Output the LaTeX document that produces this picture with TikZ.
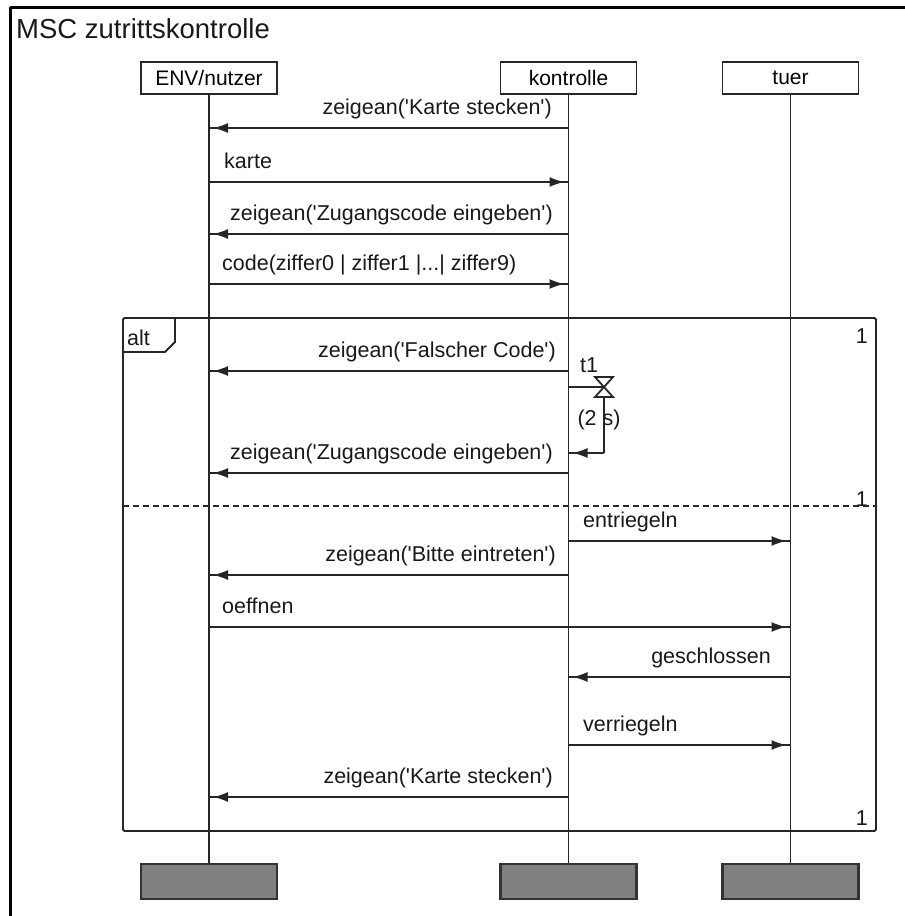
\documentclass[tikz,border=0pt]{standalone}
\usepackage{fontspec}
\setmainfont{Liberation Sans}
\usetikzlibrary{arrows.meta,calc}
\tikzset{
  frameline/.style={line width=3pt, draw=black},
  life/.style={line width=1.8pt, draw=black!85},
  headbox/.style={draw=black!85, line width=1.8pt, minimum width=136pt, minimum height=32pt, inner sep=0pt, font=\fontsize{21}{24}\selectfont},
  endbox/.style={draw=black!80, fill=black!50, line width=2.2pt, minimum width=136pt, minimum height=35pt, inner sep=0pt},
  msgline/.style={line width=1.8pt, draw=black!85},
  msgtip/.style={line width=1.8pt, draw=black!85, -{Latex[length=15pt,width=10pt]}, shorten >=4pt},
  lbl/.style={font=\fontsize{21.5}{25}\selectfont, inner sep=0pt, text=black!90},
  lblL/.style={lbl, anchor=base east},
  lblR/.style={lbl, anchor=base west},
  altframe/.style={line width=1.8pt, draw=black!85},
  sepline/.style={line width=1.6pt, draw=black!85, dash pattern=on 6pt off 4pt},
}
\newcommand\msgarrow[2]{\draw[msgline] (#1) -- (#2); \draw[msgtip] (#1) -- (#2);}
\newcommand\qt{\textquotesingle}
\begin{document}
\begin{tikzpicture}[x=1pt,y=-1pt]
\useasboundingbox (0,0) rectangle (905,916);
% outer frame (top and left visible)
\draw[frameline] (10,7) -- (905,7);
\draw[frameline] (10,7) -- (10,916);
\node[lbl, font=\fontsize{27.5}{32}\selectfont, anchor=base west] (title) at (16,38) {MSC zutrittskontrolle};

% instance heads and ends
\node[headbox] (henv) at (209,78) {ENV/nutzer};
\node[headbox] (hkon) at (568.5,78) {kontrolle};
\node[headbox] (htuer) at (790.5,78) {tuer};
\node[endbox] (eenv) at (209,881.5) {};
\node[endbox] (ekon) at (568.5,881.5) {};
\node[endbox] (etuer) at (790.5,881.5) {};

% alt frame
\draw[altframe, rounded corners=1.5pt] (123,318) rectangle (876,831);
\draw[altframe] (123,352) -- (165,352) -- (175,342) -- (175,318);
\node[lbl, anchor=base west] (alt) at (127,345) {alt};
\node[lbl, anchor=base east] (one1) at (868,343) {1};
\node[lbl, anchor=base east] (one2) at (868,506) {1};
\node[lbl, anchor=base east] (one3) at (868,825) {1};
\draw[sepline] (123,506) -- (876,506);

% lifelines
\draw[life] (henv.south) -- (eenv.north);
\draw[life] (hkon.south) -- (ekon.north);
\draw[life] (htuer.south) -- (etuer.north);

% message levels
\coordinate (m1) at (0,128);
\coordinate (m2) at (0,182);
\coordinate (m3) at (0,234);
\coordinate (m4) at (0,284);
\coordinate (m5) at (0,371);
\coordinate (m6) at (0,473);
\coordinate (m7) at (0,541);
\coordinate (m8) at (0,575);
\coordinate (m9) at (0,627);
\coordinate (m10) at (0,677);
\coordinate (m11) at (0,745);
\coordinate (m12) at (0,797);

\msgarrow{hkon |- m1}{henv |- m1}
\node[lblL] (l1) at (552,114) {zeigean(\qt Karte stecken\qt)};
\msgarrow{henv |- m2}{hkon |- m2}
\node[lblR] (l2) at (224,168) {karte};
\msgarrow{hkon |- m3}{henv |- m3}
\node[lblL] (l3) at (553,220) {zeigean(\qt Zugangscode eingeben\qt)};
\msgarrow{henv |- m4}{hkon |- m4}
\node[lblR] (l4) at (222,270) {code(ziffer0 | ziffer1 |...| ziffer9)};
\msgarrow{hkon |- m5}{henv |- m5}
\node[lblL] (l5) at (556,357) {zeigean(\qt Falscher Code\qt)};

% timer
\coordinate (tset) at (0,387);
\coordinate (hg) at (604,387);
\coordinate (tend) at (604,453);
\coordinate (tlev) at (0,453);
\draw[msgline] (hkon |- tset) -- (hg);
\draw[msgline] (595,377) -- (613,377) -- (595,397) -- (613,397) -- cycle;
\draw[msgline] (604,397) -- (tend);
\msgarrow{tend}{hkon |- tlev}
\node[lbl, anchor=base west] (t1) at (580,372) {t1};
\node[lbl] (dur) at (599,420) {(2 s)};

\msgarrow{hkon |- m6}{henv |- m6}
\node[lblL] (l6) at (553,459) {zeigean(\qt Zugangscode eingeben\qt)};
\msgarrow{hkon |- m7}{htuer |- m7}
\node[lblR] (l7) at (583,527) {entriegeln};
\msgarrow{hkon |- m8}{henv |- m8}
\node[lblL] (l8) at (556,561) {zeigean(\qt Bitte eintreten\qt)};
\msgarrow{henv |- m9}{htuer |- m9}
\node[lblR] (l9) at (222,613) {oeffnen};
\msgarrow{htuer |- m10}{hkon |- m10}
\node[lblL] (l10) at (771,663) {geschlossen};
\msgarrow{hkon |- m11}{htuer |- m11}
\node[lblR] (l11) at (583,731) {verriegeln};
\msgarrow{hkon |- m12}{henv |- m12}
\node[lblL] (l12) at (553,783) {zeigean(\qt Karte stecken\qt)};
\end{tikzpicture}
\end{document}
